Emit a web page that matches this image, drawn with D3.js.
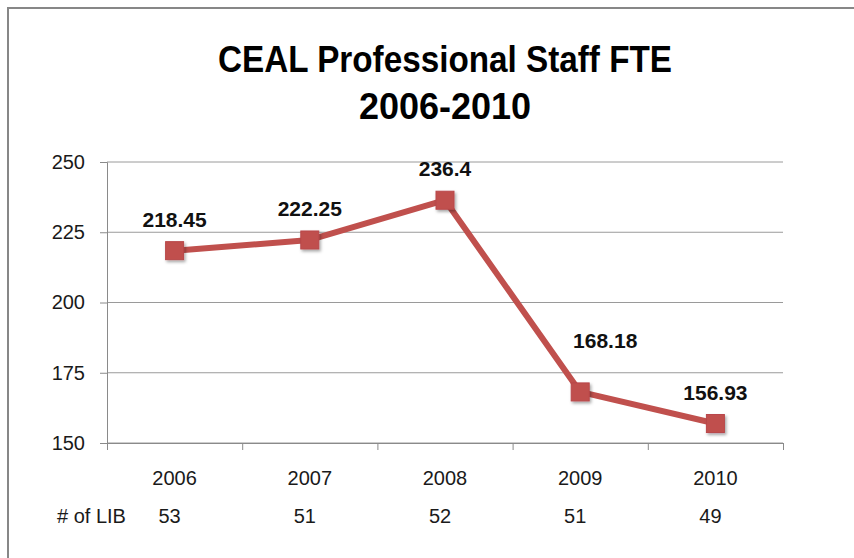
<!DOCTYPE html>
<html>
<head>
<meta charset="utf-8">
<script src="https://cdn.jsdelivr.net/npm/d3@7"></script>
<style>
  body { margin: 0; background: #fff; }
  svg { display: block; font-family: "Liberation Sans", Arial, sans-serif; }
</style>
</head>
<body>
<svg id="chart"></svg>
<script>
// chart data
var years = ["2006", "2007", "2008", "2009", "2010"];
var fte = [218.45, 222.25, 236.4, 168.18, 156.93];
var libCounts = [53, 51, 52, 51, 49];
var yTicks = [150, 175, 200, 225, 250];
var titleLines = ["CEAL Professional Staff FTE", "2006-2010"];
var libLabel = "# of LIB";

var outerWidth = 854, outerHeight = 558;
var plot = { left: 107, right: 783, top: 162, bottom: 443 };
var red = "#C0504D";

var svg = d3.select("svg#chart")
    .attr("width", outerWidth)
    .attr("height", outerHeight);

// shadow under the markers
var defs = svg.append("defs");
var shadow = defs.append("filter").attr("id", "shadow")
    .attr("x", "-50%").attr("y", "-50%").attr("width", "200%").attr("height", "200%");
shadow.append("feDropShadow")
    .attr("dx", 1.5).attr("dy", 2).attr("stdDeviation", 1.5)
    .attr("flood-color", "#000").attr("flood-opacity", 0.35);

// chart frame (top + left edges visible)
svg.append("path")
    .attr("d", "M8,558 V8 H854")
    .attr("fill", "none")
    .attr("stroke", "#878787")
    .attr("stroke-width", 2);

// title
svg.append("text")
    .attr("x", 445).attr("y", 72)
    .attr("text-anchor", "middle")
    .attr("font-weight", "bold")
    .attr("font-size", 36)
    .attr("textLength", 454)
    .attr("lengthAdjust", "spacingAndGlyphs")
    .text(titleLines[0]);
svg.append("text")
    .attr("x", 445).attr("y", 119)
    .attr("text-anchor", "middle")
    .attr("font-weight", "bold")
    .attr("font-size", 36)
    .text(titleLines[1]);

// scales
var x = d3.scaleBand().domain(years).range([plot.left, plot.right]);
var y = d3.scaleLinear().domain([150, 250]).range([plot.bottom, plot.top]);
var edge = d3.scaleLinear().domain([0, years.length]).range([plot.left, plot.right]);

// gridlines
svg.append("g")
    .selectAll("line")
    .data(yTicks)
    .join("line")
    .attr("x1", plot.left).attr("x2", plot.right)
    .attr("y1", d => y(d)).attr("y2", d => y(d))
    .attr("stroke", "#9a9a9a")
    .attr("stroke-width", 1);

// y axis
var yAxis = svg.append("g")
    .attr("transform", "translate(" + plot.left + ",0)")
    .call(d3.axisLeft(y).tickValues(yTicks).tickSize(7).tickPadding(15));
yAxis.selectAll("line, path").attr("stroke", "#8a8a8a");
yAxis.selectAll("text").attr("font-size", 20).attr("fill", "#1a1a1a")
    .attr("font-family", "Liberation Sans, Arial, sans-serif");

// x axis: tick marks at band edges
var xEdges = svg.append("g")
    .attr("transform", "translate(0," + plot.bottom + ")")
    .call(d3.axisBottom(edge).tickValues(d3.range(years.length + 1)).tickSize(7).tickSizeOuter(0).tickFormat(""));
xEdges.selectAll("line, path").attr("stroke", "#8a8a8a");

// x axis: year labels
var xLabels = svg.append("g")
    .attr("transform", "translate(0," + plot.bottom + ")")
    .call(d3.axisBottom(x).tickSize(0).tickPadding(28));
xLabels.select(".domain").remove();
xLabels.selectAll("text").attr("font-size", 20).attr("fill", "#1a1a1a")
    .attr("font-family", "Liberation Sans, Arial, sans-serif");

// "# of LIB" row
svg.append("text")
    .attr("x", 57).attr("y", 523)
    .attr("font-size", 20).attr("fill", "#1a1a1a")
    .text(libLabel);
svg.append("g")
    .selectAll("text")
    .data(libCounts)
    .join("text")
    .attr("x", (d, i) => x(years[i]) + x.bandwidth() / 2 - 5)
    .attr("y", 523)
    .attr("text-anchor", "middle")
    .attr("font-size", 20).attr("fill", "#1a1a1a")
    .text(d => d);

// line
var points = years.map((yr, i) => ({ year: yr, value: fte[i] }));
var line = d3.line()
    .x(d => x(d.year) + x.bandwidth() / 2)
    .y(d => y(d.value));

svg.append("path")
    .datum(points)
    .attr("d", line)
    .attr("fill", "none")
    .attr("stroke", red)
    .attr("stroke-width", 6)
    .attr("stroke-linejoin", "round");

// markers
var size = 18;
svg.append("g")
    .selectAll("rect")
    .data(points)
    .join("rect")
    .attr("x", d => x(d.year) + x.bandwidth() / 2 - size / 2)
    .attr("y", d => y(d.value) - size / 2)
    .attr("width", size).attr("height", size)
    .attr("fill", red)
    .attr("stroke", "#b8474a")
    .attr("stroke-width", 1)
    .attr("filter", "url(#shadow)");

// value labels (2009 label was dragged up/right in the original)
var nudge = { "2009": [25, -20] };
svg.append("g")
    .selectAll("text")
    .data(points)
    .join("text")
    .attr("x", d => x(d.year) + x.bandwidth() / 2 + (nudge[d.year] ? nudge[d.year][0] : 0))
    .attr("y", d => y(d.value) - 24 + (nudge[d.year] ? nudge[d.year][1] : 0))
    .attr("text-anchor", "middle")
    .attr("font-size", 21)
    .attr("font-weight", "bold")
    .attr("fill", "#111")
    .text(d => d.value);
</script>
</body>
</html>
